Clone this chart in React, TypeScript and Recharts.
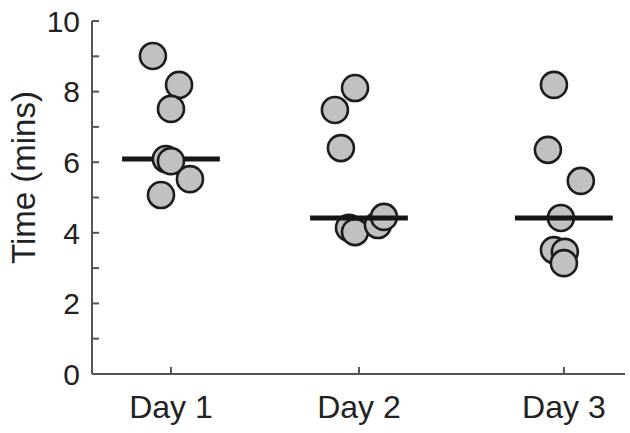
import { ScatterChart, Scatter, XAxis, YAxis, ReferenceLine } from "recharts";

// day centres on the x axis (the gap to Day 3 is wider in the source figure)
const dayLabels = ["Day 1", "Day 2", "Day 3"];
const dayPositions = [1, 2, 3.09];

// time in minutes per subject, with a small horizontal jitter (in day units)
const day1Times = [9.01, 8.19, 7.51, 6.09, 6.03, 5.52, 5.07];
const day1Jitter = [-0.096, 0.043, 0, -0.027, 0, 0.101, -0.053];
const day2Times = [8.1, 7.48, 6.4, 4.14, 4.02, 4.22, 4.45];
const day2Jitter = [-0.021, -0.128, -0.096, -0.053, -0.021, 0.101, 0.133];
const day3Times = [8.19, 6.35, 5.47, 4.42, 3.51, 3.46, 3.14];
const day3Jitter = [-0.053, -0.085, 0.09, -0.016, -0.053, 0.005, 0];
const dayMedians = [6.09, 4.42, 4.42];

const yTicks = [0, 1, 2, 3, 4, 5, 6, 7, 8, 9, 10];

const FONT = "'Liberation Sans', Arial, Helvetica, sans-serif";
const AXIS = "#555";
const MEDIAN_HALF = 0.26;

const toPoints = (times: number[], jitter: number[], day: number) =>
  times.map((t, i) => ({ x: dayPositions[day] + jitter[i], y: t }));

const allPoints = [
  ...toPoints(day1Times, day1Jitter, 0),
  ...toPoints(day2Times, day2Jitter, 1),
  ...toPoints(day3Times, day3Jitter, 2),
];

const Dot = (props: any) => (
  <circle cx={props.cx} cy={props.cy} r={13} fill="#c1c1c3" stroke="#1c1c1c" strokeWidth={2.6} />
);

const YTick = ({ x, y, payload }: any) => {
  const v = payload.value;
  return (
    <g>
      <line x1={x + 12} x2={x + 19} y1={y} y2={y} stroke={AXIS} strokeWidth={2} />
      {v % 2 === 0 && (
        <text x={x} y={y} dy="0.36em" textAnchor="end" fontSize={30} fill="#222" fontFamily={FONT}>
          {v}
        </text>
      )}
    </g>
  );
};

const XTick = ({ x, y, payload }: any) => {
  const idx = dayPositions.indexOf(payload.value);
  return (
    <g>
      <line x1={x} x2={x} y1={y - 21} y2={y - 28} stroke={AXIS} strokeWidth={2} />
      <text x={x} y={y} dy="0.72em" textAnchor="middle" fontSize={32} fill="#222" fontFamily={FONT}>
        {dayLabels[idx]}
      </text>
    </g>
  );
};

const YLabel = ({ viewBox }: any) => {
  const cx = viewBox.x + 35;
  const cy = viewBox.y + viewBox.height / 2 - 20;
  return (
    <text
      transform={`translate(${cx},${cy}) rotate(-90)`}
      textAnchor="middle"
      fontSize={33}
      fill="#222"
      fontFamily={FONT}
    >
      Time (mins)
    </text>
  );
};

export default function App() {
  return (
    <div style={{ position: "absolute", left: 0, top: 0, background: "#fff" }}>
      <ScatterChart width={630} height={433} margin={{ top: 21, right: 5, bottom: 0, left: 0 }}>
        <XAxis
          type="number"
          dataKey="x"
          domain={[0.58, 3.415]}
          ticks={dayPositions}
          tickSize={0}
          tickMargin={21}
          tick={<XTick />}
          height={59}
          axisLine={{ stroke: AXIS, strokeWidth: 2 }}
          allowDataOverflow
        />
        <YAxis
          type="number"
          dataKey="y"
          domain={[0, 10]}
          ticks={yTicks}
          interval={0}
          tickSize={0}
          tickMargin={12}
          tick={<YTick />}
          width={92}
          axisLine={{ stroke: AXIS, strokeWidth: 2 }}
          label={{ content: <YLabel /> }}
        />
        {dayMedians.map((m, i) => (
          <ReferenceLine
            key={i}
            segment={[
              { x: dayPositions[i] - MEDIAN_HALF, y: m },
              { x: dayPositions[i] + MEDIAN_HALF, y: m },
            ]}
            stroke="#161616"
            strokeWidth={5}
            zIndex={i === 0 ? 500 : 700}
          />
        ))}
        <Scatter data={allPoints} shape={<Dot />} isAnimationActive={false} />
      </ScatterChart>
    </div>
  );
}
